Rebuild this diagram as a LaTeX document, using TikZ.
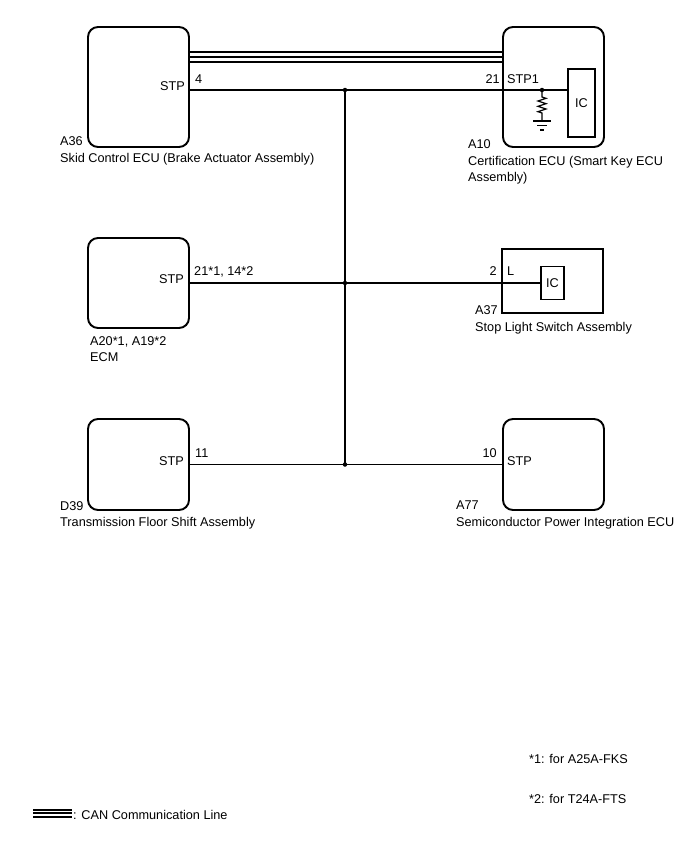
\documentclass[tikz,border=0pt]{standalone}
\usepackage{fontspec}
\setmainfont{Liberation Sans}
\begin{document}
\begin{tikzpicture}[x=1pt, y=-1pt,
        ecubox/.style={draw, line width=1.9pt, rounded corners=10pt, inner sep=0pt, minimum width=101pt},
        swbox/.style={draw, line width=1.5pt, inner sep=0pt, minimum width=101pt, minimum height=64pt},
        icbox/.style={draw, line width=1.5pt, inner sep=0pt, font=\fontsize{12.7}{15}\selectfont},
        wire/.style={line width=1.2pt},
        canline/.style={line width=2.6pt},
        lbl/.style={inner sep=0pt, font=\fontsize{12.7}{15}\selectfont},
        dot/.style={circle, fill, inner sep=0pt, minimum size=4.5pt},
        ]

        \useasboundingbox (0,0) rectangle (688,852);

        % Nodes
        \node[ecubox, minimum height=120pt] (a36) at (138.5,87) {};
        \node[ecubox, minimum height=120pt] (a10) at (553.5,87) {};
        \node[ecubox, minimum height=90pt]  (ecm) at (138.5,283) {};
        \node[swbox]                         (a37) at (552.5,281) {};
        \node[ecubox, minimum height=91pt]  (d39) at (138.5,464.5) {};
        \node[ecubox, minimum height=91pt]  (a77) at (553.5,464.5) {};

        \node[icbox, minimum width=27pt, minimum height=68pt] (ic1) at (581.5,103) {IC};
        \node[icbox, minimum width=23pt, minimum height=33pt] (ic2) at (552.5,283) {IC};

        % Pins and junctions
        \coordinate (a36stp) at (189.5,90);
        \coordinate (ecmstp) at (189,283);
        \coordinate (d39stp) at (189,464.5);
        \coordinate (j1) at (345,90);
        \coordinate (j2) at (345,283);
        \coordinate (j3) at (345,464.5);
        \coordinate (rtop) at (542,90);

        % CAN
        \draw[canline] ([yshift=35pt]a36.east) -- ([yshift=35pt]a10.west);
        \draw[canline] ([yshift=30pt]a36.east) -- ([yshift=30pt]a10.west);
        \draw[canline] ([yshift=25pt]a36.east) -- ([yshift=25pt]a10.west);

        % Wires
        \draw[wire] (a36stp) -- (j1) -- (rtop) -- (rtop -| ic1.west);
        \draw[wire] (ecmstp) -- (j2) -- (ic2.west);
        \draw[wire] (d39stp) -- (j3) -- (a77.west);
        \draw[wire] (j1) -- (j2) -- (j3);
        \node[dot] at (j1) {};
        \node[dot] at (j2) {};
        \node[dot] at (j3) {};
        \node[dot] at (rtop) {};

        % Resistor and ground
        \draw[wire] (rtop) -- (542,97) -- (546,98.3) -- (538,101) -- (546,103.7)
            -- (538,106.3) -- (546,109) -- (538,111.7) -- (542,113) -- (542,121);
        \draw[wire] (533,121) -- (551,121);
        \draw[wire] (537,125.5) -- (547,125.5);
        \draw[wire] (540,130) -- (544,130);

        % Labels
        \node[lbl, anchor=base east] at (185,90) {STP};
        \node[lbl, anchor=base west] at (195,83) {4};
        \node[lbl, anchor=base east] at (500,83) {21};
        \node[lbl, anchor=base west] at (507,83) {STP1};
        \node[lbl, anchor=base west] at (60,145) {A36};
        \node[lbl, anchor=base west] at (60,162) {Skid Control ECU (Brake Actuator Assembly)};
        \node[lbl, anchor=base west] at (468,148) {A10};
        \node[lbl, anchor=base west] at (468,165) {Certification ECU (Smart Key ECU};
        \node[lbl, anchor=base west] at (468,181) {Assembly)};

        \node[lbl, anchor=base east] at (184,283) {STP};
        \node[lbl, anchor=base west] at (194,275) {21*1, 14*2};
        \node[lbl, anchor=base west] at (90,345) {A20*1, A19*2};
        \node[lbl, anchor=base west] at (90,361) {ECM};
        \node[lbl, anchor=base east] at (497,275) {2};
        \node[lbl, anchor=base west] at (507,275) {L};
        \node[lbl, anchor=base west] at (475,314) {A37};
        \node[lbl, anchor=base west] at (475,331) {Stop Light Switch Assembly};

        \node[lbl, anchor=base east] at (184,465) {STP};
        \node[lbl, anchor=base west] at (195,457) {11};
        \node[lbl, anchor=base west] at (60,510) {D39};
        \node[lbl, anchor=base west] at (60,526) {Transmission Floor Shift Assembly};
        \node[lbl, anchor=base east] at (497,457) {10};
        \node[lbl, anchor=base west] at (507,465) {STP};
        \node[lbl, anchor=base west] at (456,509) {A77};
        \node[lbl, anchor=base west] at (456,526) {Semiconductor Power Integration ECU};

        % Notes
        \node[lbl, anchor=base west] at (529,763) {*1: for A25A-FKS};
        \node[lbl, anchor=base west] at (529,803) {*2: for T24A-FTS};
        \coordinate (lg1) at (33,810);
        \coordinate (lg2) at (72,810);
        \draw[line width=2.1pt] (lg1) -- (lg2);
        \draw[line width=2.1pt] ([yshift=-3.4pt]lg1) -- ([yshift=-3.4pt]lg2);
        \draw[line width=2.1pt] ([yshift=-6.8pt]lg1) -- ([yshift=-6.8pt]lg2);
        \node[lbl, anchor=base west] at (73,819) {: CAN Communication Line};

    \end{tikzpicture}
\end{document}
